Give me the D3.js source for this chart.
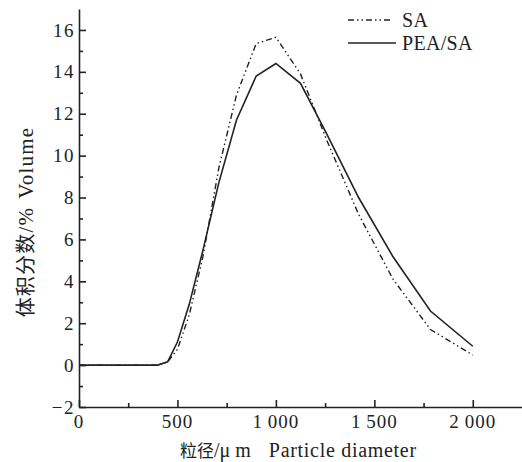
<!DOCTYPE html>
<html><head><meta charset="utf-8">
<script src="https://cdn.jsdelivr.net/npm/d3@7"></script>
<style>body{margin:0;background:#fff}svg{display:block}text{font-family:"Liberation Serif","DejaVu Serif",serif;fill:#222}</style>
</head><body><svg id="c" width="522" height="462"></svg>
<script>
const diameters = [0, 100, 200, 300, 400, 450, 500, 560, 630, 710, 800, 900, 1000, 1125, 1260, 1420, 1595, 1785, 2000];
const saValues  = [0, 0, 0, 0, 0, 0.15, 0.75, 2.4, 5.2, 9.4, 12.9, 15.35, 15.65, 13.9, 10.7, 7.2, 4.1, 1.7, 0.48];
const peaValues = [0, 0, 0, 0, 0, 0.16, 1.1, 2.9, 5.5, 8.7, 11.7, 13.8, 14.4, 13.45, 11.0, 8.0, 5.17, 2.58, 0.9];
const xMajor = [0, 500, 1000, 1500, 2000];
const xMajorLabels = ["0", "500", "1\u2009000", "1\u2009500", "2\u2009000"];
const xMinor = [250, 750, 1250, 1750];
const yMajor = [-2, 0, 2, 4, 6, 8, 10, 12, 14, 16];
const yMinor = [-1, 1, 3, 5, 7, 9, 11, 13, 15];
const seriesNames = ["SA", "PEA/SA"];

const svg = d3.select("#c");
const x = d3.scaleLinear().domain([0, 2250]).range([79, 522]);
const y = d3.scaleLinear().domain([-2, 17]).range([407, 9]);
const dashSA = "6,3,1.5,3,1.5,3";

// axes
const gx = svg.append("g").attr("transform", "translate(0,407)");
gx.call(d3.axisBottom(x).tickValues(xMajor).tickSize(-7).tickFormat("").tickSizeOuter(0));
gx.append("g").call(d3.axisBottom(x).tickValues(xMinor).tickSize(-4).tickFormat("").tickSizeOuter(0)).select(".domain").remove();
gx.selectAll("path,line").attr("stroke", "#222").attr("stroke-width", 1.6);
gx.selectAll(".lbl").data(xMajor).enter().append("text")
  .attr("x", d => x(d)).attr("y", 21).attr("text-anchor", "middle")
  .style("font-size", "19px").style("letter-spacing", "1px").text((d, i) => xMajorLabels[i]);

const gy = svg.append("g").attr("transform", "translate(79,0)");
gy.call(d3.axisLeft(y).tickValues(yMajor).tickSize(-7).tickFormat("").tickSizeOuter(0));
gy.append("g").call(d3.axisLeft(y).tickValues(yMinor).tickSize(-4).tickFormat("").tickSizeOuter(0)).select(".domain").remove();
gy.selectAll("path,line").attr("stroke", "#222").attr("stroke-width", 1.6);
gy.selectAll(".lbl").data(yMajor).enter().append("text")
  .attr("x", -4).attr("y", d => y(d)).attr("dy", "0.35em").attr("text-anchor", "end")
  .style("font-size", "19px").style("letter-spacing", "1.5px").text(d => d < 0 ? "\u2212" + Math.abs(d) : d);

// lines
const line = vals => d3.line().x((d, i) => x(diameters[i])).y(d => y(d))(vals);
svg.append("path").attr("d", line(saValues)).attr("fill", "none").attr("stroke", "#222")
  .attr("stroke-width", 1.4).attr("stroke-dasharray", dashSA);
svg.append("path").attr("d", line(peaValues)).attr("fill", "none").attr("stroke", "#222")
  .attr("stroke-width", 1.6);

// legend
const lg = svg.append("g");
lg.append("line").attr("x1", 348).attr("x2", 393).attr("y1", 20).attr("y2", 20)
  .attr("stroke", "#222").attr("stroke-width", 1.4).attr("stroke-dasharray", dashSA);
lg.append("line").attr("x1", 348).attr("x2", 396).attr("y1", 43).attr("y2", 43)
  .attr("stroke", "#222").attr("stroke-width", 1.6);
lg.append("text").attr("x", 402).attr("y", 27).style("font-size", "20px").style("letter-spacing", "0.5px").text(seriesNames[0]);
lg.append("text").attr("x", 402).attr("y", 50).style("font-size", "20px").style("letter-spacing", "0.3px").text(seriesNames[1]);

// titles
svg.append("text").attr("x", 180).attr("y", 457).attr("text-anchor", "start")
  .style("font-size", "20px").html('<tspan style="font-family:\'Noto Sans CJK SC\';font-size:17px">粒径</tspan>/μ m<tspan dx="18" style="letter-spacing:0.7px">Particle diameter</tspan>');
svg.append("text").attr("transform", "translate(33,222) rotate(-90)").attr("text-anchor", "middle")
  .style("font-size", "21px").style("letter-spacing", "1.2px").html('<tspan style="font-family:\'Noto Sans CJK SC\';font-size:20px">体积分数</tspan>/%<tspan dx="8">Volume</tspan>');
</script></body></html>
